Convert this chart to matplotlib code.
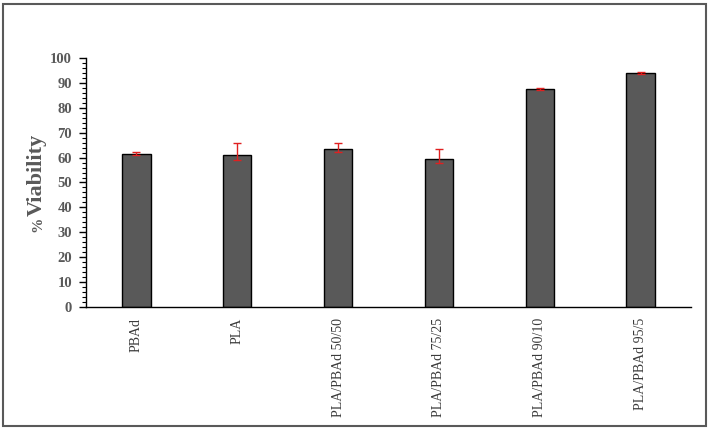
import numpy as np
import matplotlib.pyplot as plt
from matplotlib.patches import Rectangle

categories = ['PBAd', 'PLA', 'PLA/PBAd 50/50', 'PLA/PBAd 75/25', 'PLA/PBAd 90/10', 'PLA/PBAd 95/5']
viability = [61.5, 61.2, 63.3, 59.4, 87.6, 94.1]
err_low = [0.6, 2.0, 1.0, 1.6, 0.4, 0.4]
err_high = [0.6, 4.8, 2.6, 4.0, 0.4, 0.4]

gray = '#595959'

fig = plt.figure(figsize=(7.09, 4.29), dpi=100)
ax = fig.add_axes([0.1213, 0.2844, 0.8533, 0.5804])

x = np.arange(len(categories))
ax.bar(x, viability, width=0.28, color=gray, edgecolor='black', linewidth=1, zorder=2)
ax.errorbar(x, viability, yerr=[err_low, err_high], fmt='none', ecolor='#e02020',
            elinewidth=1, capsize=3, capthick=1, zorder=3)

ax.set_xlim(-0.5, len(categories) - 0.5)
ax.set_ylim(0, 100)
ax.set_yticks(np.arange(0, 101, 10))
ax.set_yticks(np.arange(0, 101, 2), minor=True)
ax.set_xticks(x)
ax.set_xticklabels(categories, rotation=90, fontsize=10, family='Liberation Serif', color='#3a3a3a')
for lab in ax.get_yticklabels():
    lab.set_family('Liberation Serif')
    lab.set_fontweight('bold')
    lab.set_fontsize(10.5)
    lab.set_color(gray)
ax.tick_params(axis='x', length=0, pad=8)
ax.tick_params(axis='y', which='major', length=5, width=1, direction='out', pad=5)
ax.tick_params(axis='y', which='minor', length=3, width=0.8, direction='out')

for s in ['top', 'right']:
    ax.spines[s].set_visible(False)
for s in ['left', 'bottom']:
    ax.spines[s].set_linewidth(1)
    ax.spines[s].set_color('black')

# y label: small "%" plus large "Viability"
fig.text(0.054, 0.476, '%', rotation=90, ha='center', va='center', fontsize=11,
         fontweight='bold', color=gray, family='Liberation Serif')
fig.text(0.052, 0.592, 'Viability', rotation=90, ha='center', va='center', fontsize=16,
         fontweight='bold', color=gray, family='Liberation Serif')

# outer frame
fig.patches.append(Rectangle((0.0042, 0.007), 0.9915, 0.9837, transform=fig.transFigure,
                             fill=False, edgecolor=gray, linewidth=1.5))

fig.savefig('out.png', dpi=100)
